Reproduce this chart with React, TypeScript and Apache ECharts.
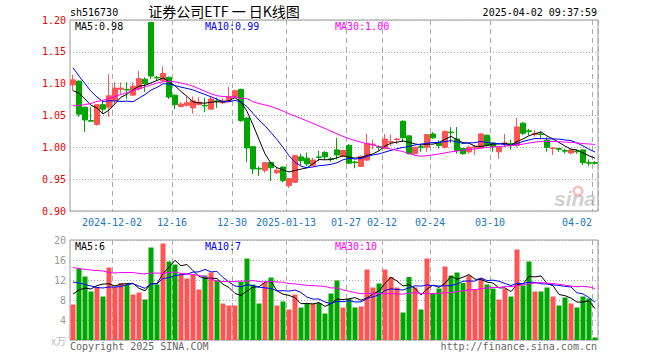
import React, { useEffect, useRef } from "react";
import * as echarts from "echarts";

const dates = [
  "2024-11-21","2024-11-22","2024-11-25","2024-11-26","2024-11-27","2024-11-28","2024-11-29",
  "2024-12-02","2024-12-03","2024-12-04","2024-12-05","2024-12-06","2024-12-09","2024-12-10",
  "2024-12-11","2024-12-12","2024-12-13","2024-12-16","2024-12-17","2024-12-18","2024-12-19",
  "2024-12-20","2024-12-23","2024-12-24","2024-12-25","2024-12-26","2024-12-27","2024-12-30",
  "2024-12-31","2025-01-02","2025-01-03","2025-01-06","2025-01-07","2025-01-08","2025-01-09",
  "2025-01-10","2025-01-13","2025-01-14","2025-01-15","2025-01-16","2025-01-17","2025-01-20",
  "2025-01-21","2025-01-22","2025-01-23","2025-01-24","2025-01-27","2025-02-05","2025-02-06",
  "2025-02-07","2025-02-10","2025-02-11","2025-02-12","2025-02-13","2025-02-14","2025-02-17",
  "2025-02-18","2025-02-19","2025-02-20","2025-02-21","2025-02-24","2025-02-25","2025-02-26",
  "2025-02-27","2025-02-28","2025-03-03","2025-03-04","2025-03-05","2025-03-06","2025-03-07",
  "2025-03-10","2025-03-11","2025-03-12","2025-03-13","2025-03-14","2025-03-17","2025-03-18",
  "2025-03-19","2025-03-20","2025-03-21","2025-03-24","2025-03-25","2025-03-26","2025-03-27",
  "2025-03-28","2025-03-31","2025-04-01","2025-04-02"
];

const opens = [
  1.098,1.104,1.063,1.042,1.036,1.067,1.063,1.073,1.091,1.091,
  1.082,1.092,1.107,1.196,1.110,1.105,1.110,1.082,1.064,1.066,
  1.062,1.067,1.066,1.060,1.073,1.070,1.073,1.079,1.091,1.046,
  1.001,0.967,0.964,0.976,0.960,0.969,0.940,0.945,0.985,0.983,
  0.972,0.985,0.992,0.982,0.996,0.986,1.003,0.977,0.970,0.980,
  1.004,1.001,0.998,1.008,1.012,1.041,1.018,0.990,1.001,1.000,
  1.021,1.007,1.000,1.024,1.013,0.998,0.993,1.000,0.999,1.019,
  1.007,0.993,1.005,1.006,1.003,1.038,1.026,1.020,1.021,1.011,
  0.998,0.998,0.995,0.991,0.994,0.996,0.976,0.976
];
const closes = [
  1.106,1.052,1.043,1.041,1.067,1.060,1.081,1.093,1.093,1.090,
  1.096,1.108,1.100,1.112,1.109,1.116,1.079,1.067,1.068,1.070,
  1.073,1.071,1.065,1.076,1.072,1.073,1.080,1.089,1.042,0.999,
  0.966,0.966,0.976,0.968,0.964,0.948,0.951,0.987,0.979,0.974,
  0.980,0.984,0.985,0.981,0.988,0.995,0.975,0.976,0.986,1.006,
  1.005,1.000,1.013,1.009,1.013,1.015,0.990,1.000,1.000,1.020,
  1.015,1.003,1.025,1.023,0.995,0.990,1.000,1.001,1.021,1.003,
  1.001,1.000,1.007,1.005,1.032,1.022,1.025,1.022,1.020,1.000,
  0.999,0.997,0.994,0.996,0.993,0.976,0.975,0.975
];
const lows = [
  1.089,1.048,1.024,1.040,1.034,1.053,1.048,1.068,1.084,1.076,
  1.081,1.089,1.087,1.107,1.105,1.102,1.076,1.060,1.063,1.064,
  1.053,1.066,1.055,1.059,1.062,1.068,1.071,1.078,1.040,0.977,
  0.958,0.955,0.960,0.947,0.958,0.945,0.936,0.944,0.972,0.970,
  0.971,0.979,0.980,0.977,0.981,0.985,0.974,0.967,0.969,0.978,
  0.997,0.995,0.997,1.002,1.005,1.008,0.989,0.989,0.993,0.993,
  1.013,0.998,0.998,1.007,0.990,0.988,0.990,0.988,0.998,1.001,
  0.993,0.982,1.000,0.996,1.000,1.019,1.019,1.017,1.014,0.993,
  0.988,0.993,0.990,0.989,0.990,0.972,0.970,0.973
];
const highs = [
  1.114,1.105,1.064,1.063,1.068,1.073,1.115,1.102,1.102,1.102,
  1.102,1.120,1.110,1.197,1.112,1.127,1.111,1.083,1.071,1.079,
  1.080,1.079,1.078,1.079,1.078,1.077,1.095,1.090,1.092,1.047,
  1.002,0.970,0.976,0.977,0.969,0.970,0.952,0.988,0.990,0.992,
  0.984,0.995,0.994,0.985,1.015,0.996,1.005,0.979,0.987,1.021,
  1.012,1.003,1.021,1.020,1.015,1.042,1.019,1.001,1.005,1.021,
  1.024,1.011,1.026,1.032,1.032,0.999,1.003,1.003,1.022,1.020,
  1.008,1.001,1.021,1.012,1.046,1.039,1.029,1.027,1.025,1.016,
  1.000,0.999,0.998,0.998,0.997,0.997,0.981,0.978
];
// volume, in 10k units
const volumes = [
  7.1,14.3,12.7,9.7,10.6,8.7,14.5,10.6,11.4,11.1,
  9.1,9.5,8.1,18.5,11.1,19.3,15.7,15.1,13.1,12.3,
  13.1,10.1,12.9,13.5,11.9,7.3,6.9,6.9,11.6,16.3,
  11.1,7.3,11.4,12.5,6.9,7.7,6.1,9.1,6.5,7.2,
  7.2,7.4,5.3,9.3,11.9,6.5,8.2,6.5,6.7,14.1,
  10.5,11.3,14.1,12.6,10.5,5.5,12.6,10.5,6.1,16.3,
  9.4,10.3,14.7,12.9,13.5,11.4,12.9,10.2,12.4,11.1,
  10.3,8.1,10.2,8.7,18.1,10.9,15.7,9.7,9.7,10.5,
  8.7,6.9,8.5,7.3,6.5,8.7,8.3,0.5
];

// moving-average values for the days whose window starts before the first visible day
const priceMa5Head = [1.089, 1.085, 1.076, 1.066];
const priceMa10Head = [1.125, 1.112, 1.100, 1.088, 1.079, 1.072, 1.073, 1.073, 1.072];
const priceMa30Head = [
  1.065,1.066,1.067,1.069,1.072,1.074,1.077,1.080,1.083,1.086,
  1.089,1.092,1.095,1.098,1.101,1.103,1.104,1.103,1.101,1.099,
  1.096,1.092,1.088,1.084,1.081,1.080,1.079,1.079,1.077
];
const volMa5Head = [9.2, 10.0, 10.4, 10.2];
const volMa10Head = [11.6, 11.4, 11.1, 10.8, 10.5, 10.4, 10.6, 10.6, 10.7];
const volMa30Head = [
  14.5,14.3,14.1,14.0,13.9,13.8,13.5,13.4,13.5,13.5,
  13.5,13.3,13.2,13.4,13.4,13.3,13.5,13.6,13.3,13.2,
  13.1,12.9,12.7,12.2,11.8,11.7,11.7,11.7,11.8
];

const tickIndex = [7, 17, 27, 36, 46, 52, 60, 70, 87];
const tickLabels = ["2024-12-02", "12-16", "12-30", "2025-01-13", "01-27", "02-12", "02-24", "03-10", "04-02"];

const priceMin = 0.9;
const priceMax = 1.2;
const priceStep = 0.05;
const volMin = 0;
const volMax = 20;
const volStep = 4;

const priceLegend = ["MA5:0.98", "MA10:0.99", "MA30:1.00"];
const volLegend = ["MA5:6", "MA10:7", "MA30:10"];
const stockCode = "sh516730";
const titleText = "证券公司ETF 一 日K线图";
const timeText = "2025-04-02 09:37:59";

const UP = "#ff5454";
const DOWN = "#00a600";
const MONO = "'DejaVu Sans Mono', 'Liberation Mono', monospace";

function movingAverage(values: number[], n: number, head: number[]) {
  return values.map((_, i) => {
    if (i < n - 1) return head[i];
    let s = 0;
    for (let k = i - n + 1; k <= i; k++) s += values[k];
    return +(s / n).toFixed(4);
  });
}

export default function App() {
  const ref = useRef<HTMLDivElement>(null);

  useEffect(() => {
    if (!ref.current) return;
    const chart = echarts.init(ref.current, null, { renderer: "svg" });

    const isTick = (i: number) => tickIndex.indexOf(i) >= 0;
    const candleData = dates.map((_, i) => [opens[i], closes[i], lows[i], highs[i]]);
    const volData = volumes.map((v, i) => ({
      value: v,
      itemStyle: { color: closes[i] >= opens[i] ? UP : DOWN },
    }));

    const vSplit = { show: true, interval: (i: number) => isTick(i), lineStyle: { color: "#aaaaaa", type: [5, 4], width: 1 } };
    const hSplit = { show: true, lineStyle: { color: "#aaaaaa", type: [1, 2], width: 1 } };

    const lineSeries = (data: number[], color: string, xi: number) => ({
      type: "line",
      xAxisIndex: xi,
      yAxisIndex: xi,
      data,
      showSymbol: false,
      symbol: "none",
      silent: true,
      lineStyle: { color, width: 1 },
      itemStyle: { color },
      z: 5,
    });

    const legendText = (text: string, x: number, y: number, color: string) => ({
      type: "text",
      x,
      y,
      style: { text, fill: color, fontSize: 10, fontFamily: MONO, textAlign: "left", textVerticalAlign: "middle" },
      z: 100,
    });

    const option: any = {
      animation: false,
      backgroundColor: "#ffffff",
      grid: [
        { left: 70, top: 20, width: 528, height: 191, show: true, borderColor: "#999999", borderWidth: 1, outerBoundsMode: "none" },
        { left: 70, top: 240, width: 528, height: 100, show: true, borderColor: "#999999", borderWidth: 1, outerBoundsMode: "none" },
      ],
      xAxis: [
        {
          type: "category",
          gridIndex: 0,
          data: dates,
          boundaryGap: true,
          axisLine: { show: false },
          axisTick: { show: false },
          axisLabel: {
            interval: (i: number) => isTick(i),
            formatter: (_v: string, i: number) => {
              const k = tickIndex.indexOf(i);
              if (k < 0) return "";
              return k === tickIndex.length - 1 ? "{r|" + tickLabels[k] + "}" : tickLabels[k];
            },
            color: "#1a78c8",
            fontSize: 10,
            fontFamily: MONO,
            margin: 6,
            padding: [0, 6, 0, 0],
            rich: { r: { color: "#1a78c8", fontSize: 10, fontFamily: MONO, padding: [0, 30, 0, 0] } },
          },
          splitLine: vSplit,
        },
        {
          type: "category",
          gridIndex: 1,
          data: dates,
          boundaryGap: true,
          axisLine: { show: false },
          axisTick: { show: false },
          axisLabel: { show: false },
          splitLine: vSplit,
        },
      ],
      yAxis: [
        {
          type: "value",
          gridIndex: 0,
          min: priceMin,
          max: priceMax,
          interval: priceStep,
          axisLine: { show: false },
          axisTick: { show: false },
          axisLabel: { color: "#ee0000", fontSize: 10, fontFamily: MONO, margin: 4, formatter: (v: number) => v.toFixed(2) },
          splitLine: hSplit,
        },
        {
          type: "value",
          gridIndex: 1,
          min: volMin,
          max: volMax,
          interval: volStep,
          axisLine: { show: false },
          axisTick: { show: false },
          axisLabel: {
            color: "#999999",
            fontSize: 10,
            fontFamily: MONO,
            margin: 4,
            formatter: (v: number) => (v === 0 ? "{u|x万}" : String(v)),
            rich: { u: { color: "#bbbbbb", fontSize: 10, fontFamily: "'Noto Sans CJK SC', sans-serif" } },
          },
          splitLine: hSplit,
        },
      ],
      series: [
        {
          type: "candlestick",
          xAxisIndex: 0,
          yAxisIndex: 0,
          data: candleData,
          barWidth: 5,
          itemStyle: { color: UP, color0: DOWN, borderColor: UP, borderColor0: DOWN, borderWidth: 1 },
          z: 3,
        },
        lineSeries(movingAverage(closes, 5, priceMa5Head), "#000000", 0),
        lineSeries(movingAverage(closes, 10, priceMa10Head), "#0000ff", 0),
        lineSeries(movingAverage(closes, 30, priceMa30Head), "#ff00ff", 0),
        {
          type: "bar",
          xAxisIndex: 1,
          yAxisIndex: 1,
          data: volData,
          barWidth: 5,
          z: 3,
        },
        lineSeries(movingAverage(volumes, 5, volMa5Head), "#000000", 1),
        lineSeries(movingAverage(volumes, 10, volMa10Head), "#0000ff", 1),
        lineSeries(movingAverage(volumes, 30, volMa30Head), "#ff00ff", 1),
      ],
      graphic: [
        { type: "text", x: 70, y: 12.5, style: { text: stockCode, fill: "#000", fontSize: 10, fontFamily: MONO, textAlign: "left", textVerticalAlign: "middle" } },
        { type: "text", x: 224, y: 11, style: { text: titleText, fill: "#000", fontSize: 14, fontFamily: "'Noto Sans CJK SC', sans-serif", textAlign: "center", textVerticalAlign: "middle" } },
        { type: "text", x: 597, y: 12.5, style: { text: timeText, fill: "#000", fontSize: 10, fontFamily: MONO, textAlign: "right", textVerticalAlign: "middle" } },
        legendText(priceLegend[0], 75, 26.5, "#000000"),
        legendText(priceLegend[1], 205, 26.5, "#0000ff"),
        legendText(priceLegend[2], 335, 26.5, "#ff00ff"),
        legendText(volLegend[0], 75, 246, "#000000"),
        legendText(volLegend[1], 205, 246, "#0000ff"),
        legendText(volLegend[2], 335, 246, "#ff00ff"),
        { type: "text", x: 70, y: 346, style: { text: "Copyright 2025 SINA.COM", fill: "#666", fontSize: 10, fontFamily: MONO, textAlign: "left", textVerticalAlign: "middle" } },
        { type: "text", x: 597, y: 346, style: { text: "http://finance.sina.com.cn", fill: "#666", fontSize: 10, fontFamily: MONO, textAlign: "right", textVerticalAlign: "middle" } },
        { type: "ring", shape: { cx: 578, cy: 191, r: 5.5, r0: 3 }, style: { fill: "rgba(240,120,120,0.45)" }, z: 1 },
        { type: "text", x: 596, y: 209, style: { text: "sina", fill: "rgba(150,150,150,0.45)", fontSize: 21, fontStyle: "italic", fontWeight: "bold", fontFamily: "'Liberation Sans', sans-serif", textAlign: "right", textVerticalAlign: "bottom" }, z: 1 },
      ],
    };

    chart.setOption(option);
    return () => chart.dispose();
  }, []);

  return <div ref={ref} style={{ position: "fixed", left: 0, top: 0, width: 660, height: 360 }} />;
}
